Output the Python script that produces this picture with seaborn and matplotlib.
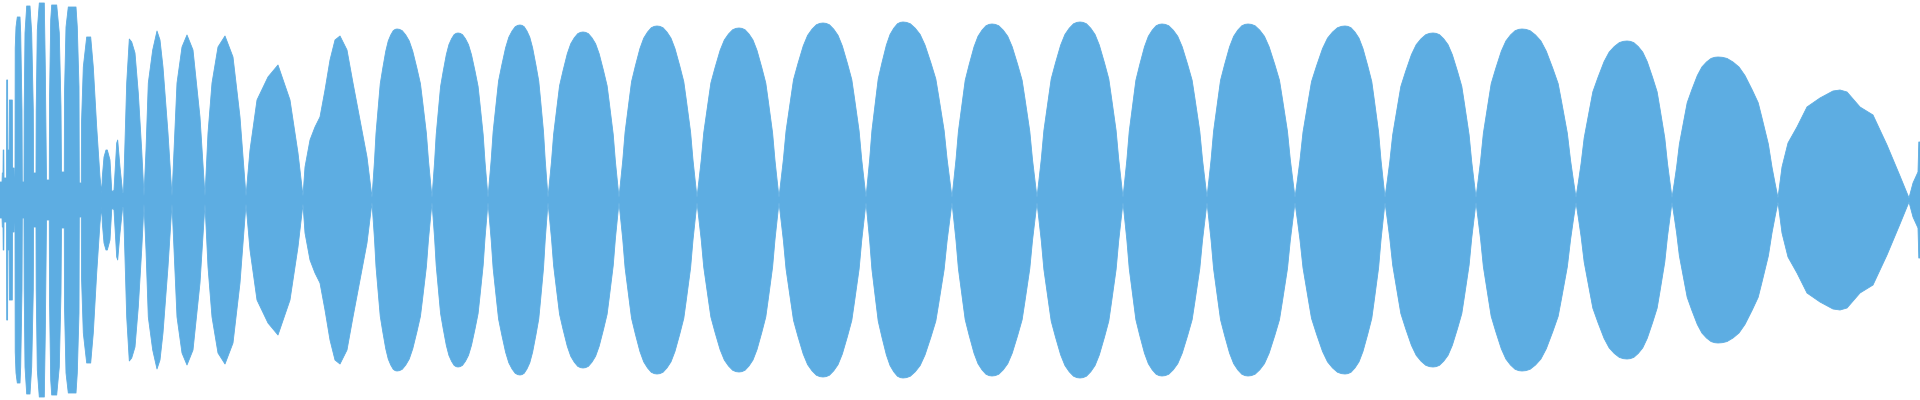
import numpy as np
import pandas as pd
import matplotlib
matplotlib.use("Agg")
import matplotlib.pyplot as plt
import seaborn as sns

# ---- data (x = sample column, amp = peak amplitude) ----
# irregular onset, explicit envelope knots
left_x = [0, 2, 2.3, 3, 3.2, 3.8, 4, 6.5, 6.7, 7.6, 7.8, 9.2, 9.4, 12.3, 12.5, 14, 14.2, 15,
          15.2, 16, 17.3, 20, 20.7, 22, 22.3, 24,
          24.2, 25, 26.7, 30, 31.7, 33.3, 33.6, 36,
          36.2, 37.3, 39.3, 44.3, 45.3, 46.5, 49.3,
          49.5, 50.7, 51.7, 56.7, 59.3, 61, 61.5, 64.3,
          64.5, 66, 68.3, 76, 77.3, 79, 79.3, 81.3,
          81.5, 83.3, 86.7, 90.7, 93.3, 96.7, 100, 101.7,
          102.3, 104, 106, 107.3, 110, 111.7, 112.7,
          114, 115, 116.7, 117.7, 120, 122.7, 123.5,
          125, 126.7, 129.3, 131.7, 135, 138.3, 141.7, 144,
          146, 148.3, 152.7, 157, 160, 163, 168, 172,
          177, 182, 187, 193, 200, 205,
          208, 212, 218, 225, 233, 240, 246,
          250, 257, 268, 278, 290, 298, 303,
          305, 310, 315, 320, 325, 330, 335, 340, 347, 353, 360, 367]
left_amp = [18, 18, 27, 27, 50, 50, 22, 22, 120, 120, 50, 50, 100, 100, 32, 32, 20, 20,
            152, 173, 183, 183, 167, 90, 18, 18,
            90, 167, 194, 194, 167, 90, 27, 27,
            90, 170, 197, 197, 133, 20, 20,
            100, 180, 195, 195, 167, 93, 28, 28,
            107, 173, 193, 193, 173, 113, 17, 17,
            77, 133, 163, 163, 133, 73, 23, 7,
            23, 43, 50, 50, 40, 10, 8,
            10, 27, 57, 60, 33, 7, 7,
            57, 117, 161, 158, 147, 107, 50, 4,
            50, 117, 150, 169, 160, 133, 67, 4,
            117, 153, 165, 150, 83, 4,
            67, 117, 153, 164, 143, 83, 4,
            50, 100, 123, 135, 100, 47, 4,
            33, 60, 73, 83, 110, 140, 160, 164, 150, 117, 80, 43]

# regular lobes: start crossing, peak position, end crossing, peak amplitude
lobe_start = [372, 432, 488, 548, 619, 697, 779, 866, 952, 1037, 1123, 1207, 1295, 1385, 1476, 1576, 1672]
lobe_peak = [397, 458, 520, 583, 657, 739, 823, 903, 992, 1080, 1162, 1248, 1345, 1433, 1522, 1627, 1718]
lobe_end = [432, 488, 548, 619, 697, 779, 866, 952, 1037, 1123, 1207, 1295, 1385, 1476, 1576, 1672, 1778]
lobe_amp = [171, 167, 175, 168, 174, 172, 177, 178, 176, 178, 176, 176, 174, 167, 171, 159, 143]

# lobe edge profile measured on the lobe at 697-779 (fraction of half width -> fraction of peak)
prof_x = [0, 0.05, 0.1, 0.16, 0.27, 0.33, 0.43, 0.55, 0.65, 0.75, 0.85, 0.93, 1.0]
prof_amp = [0.015, 0.12, 0.23, 0.39, 0.58, 0.68, 0.77, 0.87, 0.93, 0.965, 0.99, 0.998, 1.0]

# tail, explicit envelope knots
right_x = [1782, 1788, 1797, 1807, 1820, 1833, 1840, 1847, 1860, 1873, 1887, 1900, 1909,
           1913, 1918, 1918.8, 1920]
right_amp = [33, 57, 73, 93, 102, 109, 110, 108, 93, 85, 55, 24, 2,
             17, 28, 58, 58]

COLOR = "#5DADE2"

# ---- assemble envelope ----
xs = list(left_x)
amps = list(left_amp)
for s, p, e, a in zip(lobe_start, lobe_peak, lobe_end, lobe_amp):
    for fx, fa in zip(prof_x, prof_amp):
        xs.append(s + fx * (p - s)); amps.append(fa * a)
    for fx, fa in zip(prof_x[::-1][1:], prof_amp[::-1][1:]):
        xs.append(e - fx * (e - p)); amps.append(fa * a)
xs += right_x
amps += right_amp

df = pd.DataFrame({"x": xs, "amp": amps}).sort_values("x").drop_duplicates("x")
df["upper"] = df["amp"]
df["lower"] = -df["amp"]

sns.set_theme(style="white")
fig = plt.figure(figsize=(19.2, 4), dpi=100)
ax = fig.add_axes([0, 0, 1, 1])
ax.fill_between(df["x"], df["lower"], df["upper"], color=COLOR, linewidth=0)
sns.lineplot(data=df, x="x", y="upper", ax=ax, color=COLOR, linewidth=0.6, sort=False)
sns.lineplot(data=df, x="x", y="lower", ax=ax, color=COLOR, linewidth=0.6, sort=False)
ax.set_xlim(0, 1920)
ax.set_ylim(-200, 200)
ax.axis("off")
fig.savefig("out.png", dpi=100, facecolor="white")
